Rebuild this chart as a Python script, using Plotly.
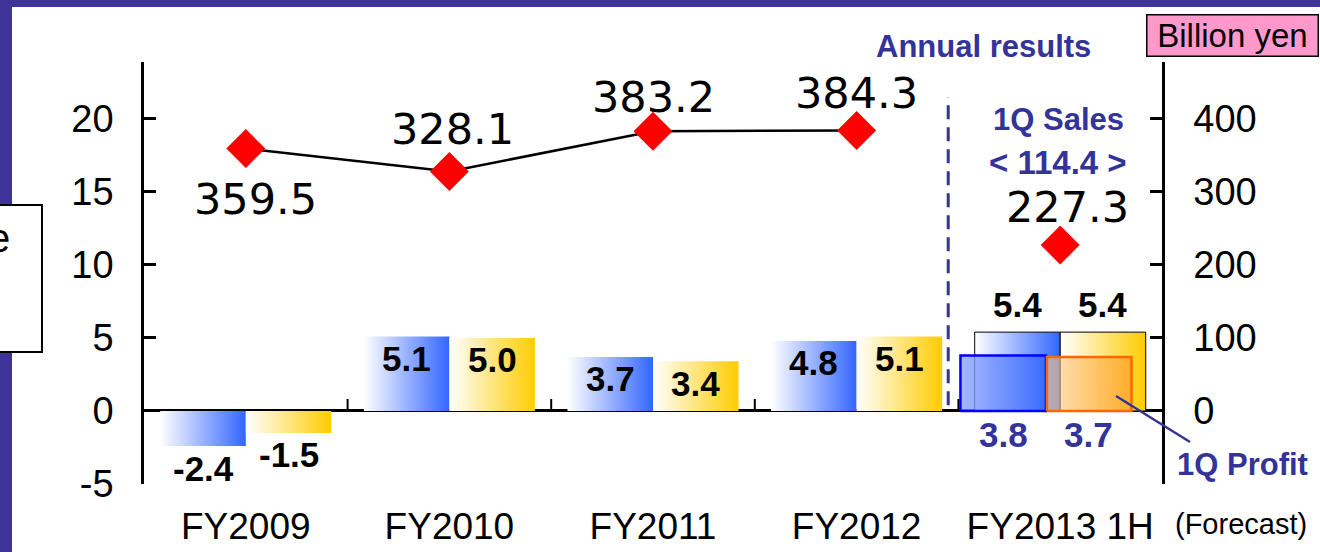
import plotly.graph_objects as go

# data
categories = ["FY2009", "FY2010", "FY2011", "FY2012", "FY2013 1H"]
sales = [359.5, 328.1, 383.2, 384.3]          # annual results (right axis)
sales_forecast = 227.3                        # FY2013 1H forecast
operating_profit = [-2.4, 5.1, 3.7, 4.8, 5.4]  # blue bars (left axis)
ordinary_profit = [-1.5, 5.0, 3.4, 5.1, 5.4]   # gold bars (left axis)
q1_operating = 3.8
q1_ordinary = 3.7
q1_sales = 114.4

NAVY = "#333399"
FRAME = "#3F3399"
BLUE_GRAD = [[0, "rgba(255,255,255,1)"], [1, "rgb(51,102,255)"]]
GOLD_GRAD = [[0, "rgba(255,255,255,1)"], [1, "rgb(255,204,0)"]]
BAR_W = 0.42

# plot area in pixels: x 144..1162, y 62..484
L, R, T, B = 144, 1162, 62, 484


def px(x, y):
    # pixel position -> paper coords
    return (x - L) / (R - L), (B - y) / (B - T)


fig = go.Figure()


def add_bar(xc, off, v, grad, line_color="rgba(0,0,0,0)", line_w=0, width=BAR_W):
    x0 = xc + off
    x1 = x0 + width
    fig.add_trace(go.Scatter(
        x=[x0, x1, x1, x0, x0], y=[0, 0, v, v, 0],
        mode="lines", fill="toself",
        line=dict(color=line_color, width=line_w),
        fillgradient=dict(type="horizontal", colorscale=grad),
        hoverinfo="skip", showlegend=False))


n_annual = len(sales)
for i, cat in enumerate(categories):
    if i < n_annual:
        add_bar(i, -BAR_W, operating_profit[i], BLUE_GRAD)
        add_bar(i, 0, ordinary_profit[i], GOLD_GRAD)
    else:
        add_bar(i, -BAR_W, operating_profit[i], BLUE_GRAD, "black", 1)
        add_bar(i, 0, ordinary_profit[i], GOLD_GRAD, "black", 1)

# 1Q overlay boxes for FY2013
i13 = len(categories) - 1
add_bar(i13, -0.49, q1_operating,
        [[0, "rgba(140,165,255,0.8)"], [1, "rgba(51,102,255,0.8)"]], "#0000FF", 2.5)
add_bar(i13, -0.065, q1_ordinary,
        [[0, "rgba(255,205,140,0.6)"], [1, "rgba(255,160,40,0.75)"]], "#FF6600", 2.5, width=0.415)

# sales line
fig.add_trace(go.Scatter(
    x=list(range(n_annual)), y=sales, yaxis="y2", mode="lines+markers",
    line=dict(color="black", width=2.5),
    marker=dict(symbol="diamond", size=30, color="#FF0000"),
    hoverinfo="skip", showlegend=False))
fig.add_trace(go.Scatter(
    x=[i13], y=[sales_forecast], yaxis="y2", mode="markers",
    marker=dict(symbol="diamond", size=30, color="#FF0000"),
    hoverinfo="skip", showlegend=False))

ann = []
# sales value labels
sales_shift = [(10, -50), (3, 42), (0, 34), (0, 37)]
for i, v in enumerate(sales):
    ann.append(dict(x=i, y=v, xref="x", yref="y2", text=f"{v:.1f}", showarrow=False,
                    xshift=sales_shift[i][0], yshift=sales_shift[i][1],
                    font=dict(family="DejaVu Sans", size=43, color="black")))
ann.append(dict(x=i13, y=sales_forecast, xref="x", yref="y2", text=f"{sales_forecast:.1f}",
                showarrow=False, xshift=7, yshift=38,
                font=dict(family="DejaVu Sans", size=43, color="black")))

# bar value labels
bar_font = dict(family="Liberation Sans", size=35, color="black", weight="bold")
for i in range(len(categories)):
    for off, vals in ((-BAR_W / 2, operating_profit), (BAR_W / 2, ordinary_profit)):
        v = vals[i]
        shift = 28 if i == i13 else -22
        ann.append(dict(x=i + off, y=v, xref="x", yref="y", text=f"{v:.1f}",
                        showarrow=False, yshift=shift, font=bar_font))
for xc, v in ((i13 - 0.28, q1_operating), (i13 + 0.14, q1_ordinary)):
    ann.append(dict(x=xc, y=0, xref="x", yref="y", text=f"{v:.1f}", showarrow=False,
                    yshift=-24,
                    font=dict(family="Liberation Sans", size=35, color=NAVY, weight="bold")))


def text_at(x, y, text, size, color=NAVY, bold=True, xanchor="center", **kw):
    xp, yp = px(x, y)
    ann.append(dict(x=xp, y=yp, xref="paper", yref="paper", showarrow=False,
                    xanchor=xanchor, yanchor="middle", text=text,
                    font=dict(family="Liberation Sans", size=size, color=color,
                              weight="bold" if bold else "normal"), **kw))


text_at(983, 47, "Annual results", 31)
text_at(1058, 119, "1Q Sales", 31)
text_at(1058, 162, f"&lt; {q1_sales} &gt;", 33)
text_at(1242, 464, "1Q Profit", 31)
text_at(1241, 524, "(Forecast)", 29, color="black", bold=False)
text_at(1232, 35, "Billion yen", 33, color="black", bold=False,
        bgcolor="#FF99CC", bordercolor="black", borderwidth=1.5, borderpad=0,
        width=170, height=40)
text_at(12, 238, "e", 40, color="black", bold=False, xanchor="right")

shapes = []


def rect_px(x0, y0, x1, y1, fill, line_w=0, line_color="black"):
    a, b = px(x0, y1)
    c, d = px(x1, y0)
    shapes.append(dict(type="rect", xref="paper", yref="paper", x0=a, y0=b, x1=c, y1=d,
                       fillcolor=fill, line=dict(width=line_w, color=line_color), layer="below"))


# slide frame bits
rect_px(0, 0, 1320, 7, FRAME)
rect_px(0, 0, 12, 552, FRAME)
rect_px(-5, 205, 42, 352, "white", 2)

# category boundary ticks on the zero line
for k in range(len(categories) - 1):
    shapes.append(dict(type="line", xref="x", yref="y", ysizemode="pixel", yanchor=0,
                       x0=k + 0.5, x1=k + 0.5, y0=0, y1=12,
                       line=dict(color="black", width=2)))

# dashed separator between annual results and forecast
shapes.append(dict(type="line", xref="x", yref="y", x0=3.45, x1=3.45, y0=0.4, y1=21.5,
                   line=dict(color=NAVY, width=3, dash="14px,8px")))

# callout line to "1Q Profit"
a, b = px(1116, 396)
c, d = px(1190, 442)
shapes.append(dict(type="line", xref="paper", yref="paper", x0=a, y0=b, x1=c, y1=d,
                   line=dict(color=NAVY, width=2.5)))

fig.update_layout(
    width=1320, height=552,
    margin=dict(l=L, r=1320 - R, t=T, b=552 - B),
    paper_bgcolor="white", plot_bgcolor="white",
    showlegend=False,
    font=dict(family="Liberation Sans", color="black"),
    xaxis=dict(range=[-0.5, 4.5], tickvals=list(range(len(categories))), ticktext=categories,
               showline=False, showgrid=False, zeroline=False, ticks="",
               tickfont=dict(size=37), ticklabelstandoff=17, fixedrange=True,
               automargin=False),
    yaxis=dict(range=[-5, 23.9], tickvals=[-5, 0, 5, 10, 15, 20],
               ticktext=["-5", "0", "5", "10", "15", "20"],
               showline=True, linecolor="black", linewidth=2.5,
               ticks="inside", ticklen=12, tickwidth=2.5, tickcolor="black",
               showgrid=False, zeroline=True, zerolinecolor="black", zerolinewidth=3,
               tickfont=dict(size=38), ticklabelstandoff=20, automargin=False),
    yaxis2=dict(range=[-100, 478], overlaying="y", side="right",
                tickvals=[-100, 0, 100, 200, 300, 400],
                ticktext=["", "0", "100", "200", "300", "400"],
                showline=True, linecolor="black", linewidth=2.5,
                ticks="inside", ticklen=12, tickwidth=2.5, tickcolor="black",
                showgrid=False, zeroline=False,
                tickfont=dict(size=38), ticklabelstandoff=21, automargin=False),
    annotations=ann,
    shapes=shapes,
)

fig.write_html("out.html", config={"displayModeBar": False},
               post_script="document.body.style.margin='0px';")
